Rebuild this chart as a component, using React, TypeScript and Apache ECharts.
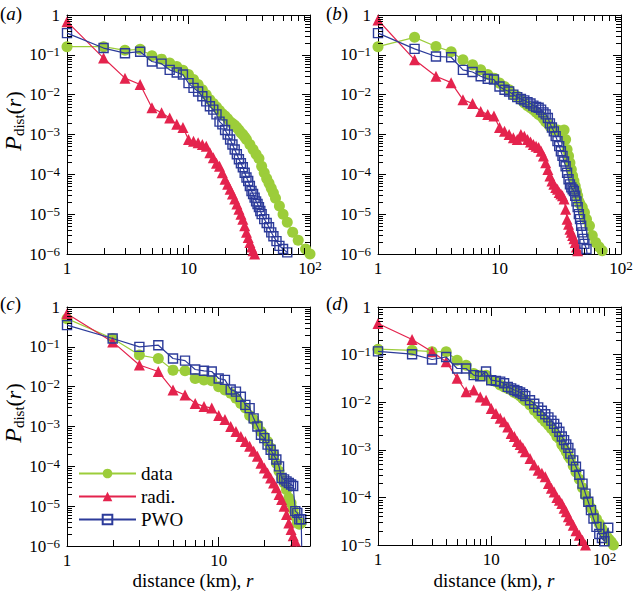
import React, { useEffect, useRef } from 'react';
import * as echarts from 'echarts';

const FONT = 'Liberation Serif, Times New Roman, serif';
const GREEN = '#9ccd3a';
const RED = '#e4234d';
const BLUE = '#2c3b9a';

type Pt = [number, number];

// ---------- panel (a) ----------
const aData: Pt[] = [[1,0.16],[2,0.16],[3,0.13],[4,0.138],[5,0.095],[6,0.078],[7,0.062],[8,0.051],[9,0.041],[10,0.032],[11,0.024],[12,0.018],[13,0.0133],[14,0.010],[15,0.0075],[16,0.006],[17,0.0049],[18,0.004],[19,0.0033],[20,0.0029],[21,0.0025],[22,0.0021],[23,0.0019],[24,0.0017],[25,0.0015],[26,0.0013],[27,0.0011],[28,0.001],[29,8.7e-4],[30,7.5e-4],[32,5.6e-4],[34,4.2e-4],[36,3.2e-4],[38,2.5e-4],[40,1.6e-4],[42,1.1e-4],[44,7.9e-5],[46,6e-5],[48,4.5e-5],[50,3.4e-5],[52,2.5e-5],[56,1.6e-5],[60,1e-5],[65,6.3e-6],[72,3.5e-6],[80,2.2e-6],[92,1.33e-6],[100,1e-6]];
const aRadi: Pt[] = [[1,0.68],[2,0.083],[3,0.026],[4,0.018],[5,0.0047],[6,0.0035],[7,0.0026],[8,0.0018],[9,0.0015],[10,7.5e-4],[11,6.8e-4],[12,6.2e-4],[13,5.6e-4],[14,5.1e-4],[15,3.5e-4],[16,2.6e-4],[17,1.9e-4],[18,1.6e-4],[19,1.1e-4],[20,7.5e-5],[21,5.6e-5],[22,4.2e-5],[23,3.2e-5],[24,2.4e-5],[25,1.8e-5],[26,1.33e-5],[27,1e-5],[28,7.5e-6],[29,5.1e-6],[30,3.5e-6],[31,2.6e-6],[32,1.95e-6],[33,1.5e-6],[34,1.2e-6],[35,1e-6],[36,8e-7]];
const aPwo: Pt[] = [[1,0.35],[2,0.148],[3,0.11],[4,0.12],[5,0.068],[6,0.06],[7,0.042],[8,0.036],[9,0.032],[10,0.0195],[11,0.0148],[12,0.012],[13,0.0091],[14,0.0068],[15,0.0051],[16,0.0042],[17,0.0032],[18,0.0021],[19,0.0018],[20,0.0013],[21,0.001],[22,7.5e-4],[23,5.6e-4],[24,4.2e-4],[25,3.2e-4],[26,2.4e-4],[27,1.9e-4],[28,1.5e-4],[29,1.1e-4],[30,8.3e-5],[31,6.8e-5],[32,5.1e-5],[33,3.8e-5],[34,3.2e-5],[35,2.6e-5],[36,2.1e-5],[37,1.8e-5],[38,1.5e-5],[39,1.2e-5],[40,1e-5],[42,7.5e-6],[44,6e-6],[46,4.7e-6],[48,3.5e-6],[50,2.8e-6],[53,2.1e-6],[56,1.6e-6],[60,1.33e-6],[65,1.1e-6],[70,5e-7]];

// ---------- panel (b) ----------
const bData: Pt[] = [[1,0.16],[2,0.275],[3,0.162],[4,0.12],[5,0.075],[6,0.056],[7,0.042],[8,0.032],[9,0.026],[10,0.0195],[11,0.016],[12,0.0133],[13,0.01],[14,0.0091],[15,0.0075],[16,0.0062],[17,0.0053],[18,0.0047],[19,0.0042],[20,0.0036],[21,0.0032],[22,0.0029],[23,0.0025],[24,0.0021],[25,0.0019],[26,0.0016],[27,0.0015],[28,0.0013],[30,0.0013],[32,0.0012],[34,0.0013],[35,7.5e-4],[36,4.2e-4],[37,2.9e-4],[38,1.95e-4],[39,1.33e-4],[40,9.1e-5],[41,6.8e-5],[42,5.1e-5],[43,3.8e-5],[44,2.9e-5],[45,2.1e-5],[46,1.8e-5],[48,1.5e-5],[50,1.1e-5],[52,7.5e-6],[55,5.1e-6],[58,2.9e-6],[62,1.95e-6],[66,1.5e-6],[70,1.2e-6],[75,8e-7]];
const bRadi: Pt[] = [[1,0.75],[2,0.075],[3,0.029],[4,0.02],[5,0.0075],[6,0.006],[7,0.0038],[8,0.0032],[9,0.0029],[10,0.0015],[11,0.0012],[12,0.001],[13,8.3e-4],[14,7.5e-4],[15,1e-3],[16,9.1e-4],[17,7.5e-4],[18,6.5e-4],[19,5.6e-4],[20,5.1e-4],[21,4.7e-4],[22,3.8e-4],[23,2.9e-4],[24,1.95e-4],[25,1.33e-4],[26,9.1e-5],[27,6.8e-5],[28,5.6e-5],[29,4.7e-5],[30,4.2e-5],[31,3.5e-5],[32,3.2e-5],[33,2.9e-5],[34,2.4e-5],[35,1.33e-5],[36,7.5e-6],[37,5.6e-6],[38,4.2e-6],[39,3.5e-6],[40,2.9e-6],[41,2.4e-6],[42,1.95e-6],[43,1.5e-6],[44,1.2e-6],[45,9e-7]];
const bPwo: Pt[] = [[1,0.35],[2,0.141],[3,0.091],[4,0.087],[5,0.042],[6,0.037],[7,0.029],[8,0.025],[9,0.024],[10,0.016],[11,0.0133],[12,0.012],[13,0.01],[14,0.0087],[15,0.0078],[16,0.0072],[17,0.0065],[18,0.006],[19,0.0053],[20,0.0049],[21,0.0047],[22,0.0042],[23,0.0036],[24,0.0032],[25,0.0026],[26,0.0019],[27,0.0015],[28,0.0012],[29,9.1e-4],[30,6.8e-4],[31,5.1e-4],[32,3.8e-4],[33,2.9e-4],[34,2.1e-4],[35,1.6e-4],[36,1.1e-4],[37,7.5e-5],[38,5.6e-5],[39,4.7e-5],[40,4.2e-5],[41,3.8e-5],[42,2.9e-5],[43,2.1e-5],[44,1.5e-5],[45,1e-5],[46,7.5e-6],[47,5.1e-6],[48,3.5e-6],[49,2.4e-6],[50,1.8e-6],[52,1.33e-6],[54,5e-7]];

// ---------- panel (c) ----------
const cData: Pt[] = [[1,0.51],[2,0.162],[3,0.062],[4,0.051],[5,0.026],[6,0.025],[7,0.016],[8,0.0148],[9,0.014],[10,0.01],[11,0.0083],[12,0.0068],[13,0.0051],[14,0.0038],[15,0.0029],[16,0.0019],[17,0.0015],[18,0.0011],[19,7.5e-4],[20,5.6e-4],[21,4.2e-4],[22,2.9e-4],[23,1.95e-4],[24,1.2e-4],[25,7.5e-5],[26,5.1e-5],[27,3.8e-5],[28,2.6e-5],[29,1.6e-5],[30,1.2e-5],[31,8.3e-6],[32,5.6e-6],[33,3.8e-6],[34,3.5e-6],[35,3.8e-6]];
const cRadi: Pt[] = [[1,0.68],[2,0.133],[3,0.035],[4,0.024],[5,0.0083],[6,0.0062],[7,0.0038],[8,0.0032],[9,0.0029],[10,0.0019],[11,0.0015],[12,0.001],[13,7.5e-4],[14,5.6e-4],[15,4.2e-4],[16,3.2e-4],[17,2.4e-4],[18,1.8e-4],[19,1.2e-4],[20,9.1e-5],[21,6.8e-5],[22,5.1e-5],[23,3.8e-5],[24,2.9e-5],[25,1.95e-5],[26,1.48e-5],[27,1e-5],[28,6.2e-6],[29,3.8e-6],[30,2.6e-6],[31,1.8e-6],[32,1.33e-6],[33,8e-7]];
const cPwo: Pt[] = [[1,0.35],[2,0.162],[3,0.1],[4,0.11],[5,0.051],[6,0.045],[7,0.027],[8,0.025],[9,0.024],[10,0.016],[11,0.0148],[12,0.0085],[13,0.0075],[14,0.0056],[15,0.0035],[16,0.0029],[17,0.0016],[18,0.001],[19,6.2e-4],[20,5.1e-4],[21,3.5e-4],[22,2.6e-4],[23,1.95e-4],[24,1.48e-4],[25,1e-4],[26,5.1e-5],[27,4.7e-5],[28,4.2e-5],[29,3.8e-5],[30,3.5e-5],[31,3.2e-5],[32,7.5e-6],[33,6.8e-6],[34,4.7e-6],[35,4.7e-6],[36,1e-8]];

// ---------- panel (d) ----------
const dData: Pt[] = [[1,0.13],[2,0.123],[3,0.115],[4,0.115],[5,0.076],[6,0.06],[7,0.04],[8,0.037],[9,0.037],[10,0.029],[11,0.027],[12,0.023],[13,0.021],[14,0.0195],[15,0.018],[16,0.016],[17,0.0148],[18,0.0135],[19,0.012],[20,0.0107],[22,0.0087],[24,0.0068],[26,0.0056],[28,0.0046],[30,0.0039],[32,0.0033],[34,0.0028],[36,0.0024],[38,0.0019],[40,0.0017],[42,0.0013],[44,0.0011],[46,9.1e-4],[48,7.4e-4],[50,6.5e-4],[53,4.6e-4],[56,3.4e-4],[60,2.4e-4],[64,1.6e-4],[68,1.1e-4],[72,8e-5],[76,6e-5],[80,4.6e-5],[85,3.5e-5],[90,2.8e-5],[95,2.2e-5],[100,1.8e-5],[105,1.5e-5],[110,1.3e-5],[115,1.15e-5],[120,1e-5],[125,9e-6]];
const dRadi: Pt[] = [[1,0.45],[2,0.207],[3,0.115],[4,0.071],[5,0.032],[6,0.0166],[7,0.018],[8,0.0129],[9,0.011],[10,0.0074],[11,0.0058],[12,0.0046],[13,0.0039],[14,0.003],[15,0.0022],[16,0.0019],[17,0.0015],[18,0.0013],[19,0.0011],[20,9.1e-4],[22,6.6e-4],[24,4.8e-4],[26,3.7e-4],[28,3.2e-4],[30,2.7e-4],[32,1.95e-4],[34,1.55e-4],[36,1.3e-4],[38,1e-4],[40,8.7e-5],[42,7.4e-5],[44,5.9e-5],[46,5e-5],[48,3.9e-5],[50,3.3e-5],[53,2.6e-5],[56,2e-5],[60,1.6e-5],[64,1.26e-5],[68,1e-5],[72,8e-6]];
const dPwo: Pt[] = [[1,0.117],[2,0.102],[3,0.079],[4,0.089],[5,0.051],[6,0.051],[7,0.037],[8,0.035],[9,0.044],[10,0.029],[11,0.028],[12,0.027],[13,0.025],[14,0.021],[15,0.0195],[16,0.018],[17,0.017],[18,0.016],[19,0.0148],[20,0.0135],[22,0.011],[24,0.0093],[26,0.0078],[28,0.0066],[30,0.0056],[32,0.0048],[34,0.0041],[36,0.0035],[38,0.0029],[40,0.0024],[42,0.0019],[44,0.0016],[46,0.0013],[48,0.0011],[50,8.3e-4],[53,6e-4],[56,4.4e-4],[60,3e-4],[64,1.95e-4],[68,1.2e-4],[72,8.1e-5],[76,5.4e-5],[80,3.6e-5],[85,2.4e-5],[90,1.7e-5],[95,1.4e-5],[100,1.2e-5],[108,2.3e-5],[112,1e-7]];

// ---------- labels ----------
const SERIES_NAMES = ['data', 'radi.', 'PWO'];
const X_TICK_LABELS: Record<number, string> = { 0: '{b|1}', 1: '{b|10}', 2: '{b|10}{s|2}' };
const Y_TICK_LABELS: Record<number, string> = {
  0: '{b|1}', [-1]: '{b|10}{s|\u22121}', [-2]: '{b|10}{s|\u22122}', [-3]: '{b|10}{s|\u22123}',
  [-4]: '{b|10}{s|\u22124}', [-5]: '{b|10}{s|\u22125}', [-6]: '{b|10}{s|\u22126}',
};
const X_TITLE = '{n|distance (km), }{i|r}';
const Y_TITLE = '{p|P}{d|dist}{n|(}{i|r}{n|)}';

const PANELS = [
  { id: 'a', grid: { left: 67, top: 15, width: 243, height: 239 }, xMax: 100, yMin: 1e-6, series: [aData, aRadi, aPwo], tag: [0, 13], yTitle: [13, 121], xTitle: null as null | number[] },
  { id: 'b', grid: { left: 378, top: 15, width: 243, height: 239 }, xMax: 100, yMin: 1e-6, series: [bData, bRadi, bPwo], tag: [326, 13], yTitle: null as null | number[], xTitle: null as null | number[] },
  { id: 'c', grid: { left: 67, top: 307, width: 243, height: 239 }, xMax: 40, yMin: 1e-6, series: [cData, cRadi, cPwo], tag: [0, 303], yTitle: [13, 413], xTitle: [193, 580] },
  { id: 'd', grid: { left: 378, top: 307, width: 243, height: 238 }, xMax: 140, yMin: 1e-5, series: [dData, dRadi, dPwo], tag: [326, 303], yTitle: null as null | number[], xTitle: [494, 580] },
];

const tickRich = {
  b: { fontFamily: FONT, fontSize: 17, lineHeight: 19, color: '#000' },
  s: { fontFamily: FONT, fontSize: 13, lineHeight: 9, verticalAlign: 'top', color: '#000' },
};

function decadeOf(v: number): number | null {
  const l = Math.log10(v);
  const r = Math.round(l);
  return Math.abs(l - r) < 1e-6 ? r : null;
}

function minorValues(lo: number, hi: number): number[] {
  const out: number[] = [];
  for (let k = Math.floor(Math.log10(lo)); k <= Math.ceil(Math.log10(hi)); k++) {
    for (let m = 2; m <= 9; m++) {
      const v = m * Math.pow(10, k);
      if (v > lo * 1.0001 && v < hi * 0.9999) out.push(v);
    }
  }
  return out;
}

function buildOption() {
  const xAxis: any[] = [];
  const yAxis: any[] = [];
  const series: any[] = [];
  const graphic: any[] = [];
  const grid: any[] = [];
  const axisLine = { show: true, onZero: false, lineStyle: { color: '#000', width: 1 } };

  PANELS.forEach((p, i) => {
    grid.push({ ...p.grid, containLabel: false, outerBoundsMode: 'none' });
    const xBase = { type: 'log', gridIndex: i, min: 1, max: p.xMax, logBase: 10, splitLine: { show: false }, axisLine };
    const yBase = { type: 'log', gridIndex: i, min: p.yMin, max: 1, logBase: 10, splitLine: { show: false }, axisLine };
    xAxis.push({
      ...xBase, position: 'bottom',
      axisTick: { show: true, inside: true, length: 9, lineStyle: { color: '#000', width: 1 } },
      axisLabel: {
        show: true, margin: 5, showMinLabel: true, showMaxLabel: true, rich: tickRich,
        fontFamily: FONT, fontSize: 17, color: '#000',
        formatter: (v: number) => { const d = decadeOf(v); return d === null ? '' : (X_TICK_LABELS[d] ?? ''); },
      },
    });
    xAxis.push({ ...xBase, position: 'top', axisTick: { show: true, inside: true, length: 9, lineStyle: { color: '#000', width: 1 } }, axisLabel: { show: false } });
    yAxis.push({
      ...yBase, position: 'left',
      axisTick: { show: true, inside: true, length: 8, lineStyle: { color: '#000', width: 1 } },
      axisLabel: {
        show: true, margin: 7, showMinLabel: true, showMaxLabel: true, rich: tickRich,
        fontFamily: FONT, fontSize: 17, color: '#000',
        formatter: (v: number) => { const d = decadeOf(v); return d === null ? '' : (Y_TICK_LABELS[d] ?? ''); },
      },
    });
    yAxis.push({ ...yBase, position: 'right', axisTick: { show: true, inside: true, length: 8, lineStyle: { color: '#000', width: 1 } }, axisLabel: { show: false } });

    const ax = { xAxisIndex: 2 * i, yAxisIndex: 2 * i };
    const [dat, radi, pwo] = p.series;
    series.push({
      type: 'line', name: SERIES_NAMES[0], ...ax, data: dat, symbol: 'circle', symbolSize: 11, z: 2,
      itemStyle: { color: GREEN }, lineStyle: { color: GREEN, width: 1.2 }, emphasis: { disabled: true }, silent: true,
    });
    series.push({
      type: 'line', name: SERIES_NAMES[1], ...ax, data: radi, symbol: 'triangle', symbolSize: 11, z: 3,
      itemStyle: { color: RED }, lineStyle: { color: RED, width: 1.2 }, emphasis: { disabled: true }, silent: true,
    });
    series.push({
      type: 'line', name: SERIES_NAMES[2], ...ax, data: pwo, symbol: 'rect', symbolSize: 9, z: 4,
      itemStyle: { color: 'rgba(255,255,255,0)', borderColor: BLUE, borderWidth: 1.4 },
      lineStyle: { color: BLUE, width: 1.2 }, emphasis: { disabled: true }, silent: true,
    });

    const xm = minorValues(1, p.xMax);
    const ym = minorValues(p.yMin, 1);
    const yMin = p.yMin;
    series.push({
      type: 'custom', ...ax, data: [[1, yMin]], silent: true, z: 10,
      renderItem: (params: any, api: any) => {
        const cs = params.coordSys;
        const left = cs.x, top = cs.y, right = cs.x + cs.width, bottom = cs.y + cs.height;
        const children: any[] = [];
        const ln = (x1: number, y1: number, x2: number, y2: number) => ({
          type: 'line', shape: { x1, y1, x2, y2 }, style: { stroke: '#000', lineWidth: 1 },
        });
        xm.forEach((v) => {
          const px = Math.round(api.coord([v, yMin])[0]) + 0.5;
          children.push(ln(px, bottom, px, bottom - 6), ln(px, top, px, top + 6));
        });
        ym.forEach((v) => {
          const py = Math.round(api.coord([1, v])[1]) + 0.5;
          children.push(ln(left, py, left + 5, py), ln(right, py, right - 5, py));
        });
        return { type: 'group', children };
      },
    });

    graphic.push({
      type: 'text', x: p.tag[0], y: p.tag[1], silent: true,
      style: {
        text: `{n|(}{i|${p.id}}{n|)}`, align: 'left', verticalAlign: 'middle', fill: '#000',
        fontFamily: FONT, fontSize: 19,
        rich: {
          n: { fontFamily: FONT, fontSize: 19, color: '#000' },
          i: { fontFamily: FONT, fontSize: 19, fontStyle: 'italic', color: '#000' },
        },
      },
    });
    if (p.yTitle) {
      graphic.push({
        type: 'text', x: p.yTitle[0], y: p.yTitle[1], rotation: Math.PI / 2, silent: true,
        style: {
          text: Y_TITLE, align: 'center', verticalAlign: 'middle', fill: '#000',
          fontFamily: FONT, fontSize: 22,
          rich: {
            p: { fontFamily: FONT, fontSize: 24, fontStyle: 'italic', lineHeight: 26, color: '#000' },
            d: { fontFamily: FONT, fontSize: 15, lineHeight: 12, verticalAlign: 'bottom', color: '#000' },
            n: { fontFamily: FONT, fontSize: 22, lineHeight: 26, color: '#000' },
            i: { fontFamily: FONT, fontSize: 22, fontStyle: 'italic', lineHeight: 26, color: '#000' },
          },
        },
      });
    }
    if (p.xTitle) {
      graphic.push({
        type: 'text', x: p.xTitle[0], y: p.xTitle[1], silent: true,
        style: {
          text: X_TITLE, align: 'center', verticalAlign: 'middle', fill: '#000',
          fontFamily: FONT, fontSize: 19,
          rich: {
            n: { fontFamily: FONT, fontSize: 19, color: '#000' },
            i: { fontFamily: FONT, fontSize: 19, fontStyle: 'italic', color: '#000' },
          },
        },
      });
    }
  });

  return {
    animation: false,
    backgroundColor: '#fff',
    textStyle: { fontFamily: FONT },
    grid, xAxis, yAxis, series, graphic,
    legend: {
      show: true, orient: 'vertical', left: 78, top: 464, padding: 0, itemWidth: 57, itemHeight: 12, itemGap: 4,
      selectedMode: false, data: SERIES_NAMES,
      textStyle: { fontFamily: FONT, fontSize: 19, color: '#000' },
    },
  };
}

export default function App() {
  const ref = useRef<HTMLDivElement>(null);
  useEffect(() => {
    if (!ref.current) return;
    const chart = echarts.init(ref.current, undefined, { renderer: 'svg' });
    chart.setOption(buildOption() as any);
    return () => chart.dispose();
  }, []);
  return (
    <div
      ref={ref}
      style={{ position: 'fixed', left: 0, top: 0, width: 635, height: 592, background: '#fff' }}
    />
  );
}
